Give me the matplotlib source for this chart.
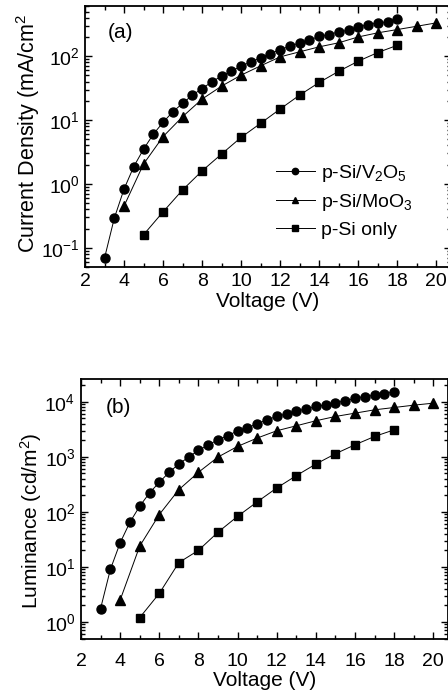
import matplotlib
matplotlib.use('Agg')
import matplotlib.pyplot as plt
from matplotlib.ticker import MultipleLocator, LogLocator, NullFormatter
import numpy as np

plt.rcParams['font.family'] = ['Liberation Sans', 'DejaVu Sans']
plt.rcParams['mathtext.fontset'] = 'custom'
plt.rcParams['mathtext.rm'] = 'Liberation Sans'
plt.rcParams['mathtext.it'] = 'Liberation Sans'

# voltages
v_half = [3 + 0.5 * i for i in range(31)]       # 3 .. 18 step 0.5
v_moo3 = list(range(4, 21))                     # 4 .. 20
v_si = list(range(5, 19))                       # 5 .. 18

# (a) current density, mA/cm2
j_v2o5 = [0.069, 0.29, 0.83, 1.87, 3.5, 6.0, 9.2, 13.5, 18.2, 24.6, 31, 39.7, 48.7, 58,
          70, 81.5, 94, 110, 127, 143, 162, 178, 205, 218, 240, 255, 287, 312, 332, 344, 388]
j_moo3 = [0.45, 2.05, 5.5, 11.3, 21.3, 34, 50.5, 70.6, 97.6, 117, 140, 162, 200, 232, 261, 294, 332]
j_si = [0.16, 0.365, 0.805, 1.6, 2.94, 5.36, 8.9, 14.9, 24.6, 38.8, 58, 83.5, 114, 148]

# (b) luminance, cd/m2
l_v2o5 = [1.75, 9.0, 27.4, 65, 127, 221, 345, 524, 741, 993, 1312, 1640, 2050, 2420, 2980,
          3380, 3990, 4720, 5420, 6060, 6870, 7360, 8230, 8830, 9720, 10400, 11650, 12500,
          13200, 13960, 15400]
l_moo3 = [2.5, 23.9, 89.5, 254, 524, 993, 1550, 2195, 2980, 3670, 4530, 5420, 6230, 7160,
          7890, 8700, 9460]
l_si = [1.2, 3.3, 12, 20, 42.8, 83, 152, 272, 456, 741, 1140, 1660, 2350, 3100]

labels = ['p-Si/V$_2$O$_5$', 'p-Si/MoO$_3$', 'p-Si only']

W, H = 448, 697
fig = plt.figure(figsize=(W / 100, H / 100), dpi=100)
FS = 14


def px_axes(left, top, right, bottom):
    return fig.add_axes([left / W, 1 - bottom / H, (right - left) / W, (bottom - top) / H])


def style(ax, ylim, xpad):
    ax.set_yscale('log')
    ax.set_xlim(2, 20.75)
    ax.set_ylim(*ylim)
    ax.xaxis.set_major_locator(MultipleLocator(2))
    ax.xaxis.set_minor_locator(MultipleLocator(1))
    ax.yaxis.set_major_locator(LogLocator(base=10, numticks=20))
    ax.yaxis.set_minor_locator(LogLocator(base=10, subs=np.arange(2, 10), numticks=20))
    ax.yaxis.set_minor_formatter(NullFormatter())
    ax.tick_params(which='both', direction='in', top=True, right=True, labelsize=FS,
                   width=1.0)
    ax.tick_params(axis='x', pad=xpad)
    ax.tick_params(axis='y', pad=4)
    ax.tick_params(which='major', length=5)
    ax.tick_params(which='minor', length=3)
    for s in ax.spines.values():
        s.set_linewidth(1.3)
    ax.set_xlabel('Voltage (V)', fontsize=FS + 1, labelpad=1)


kw = dict(color='black', linewidth=0.7)

ax1 = px_axes(85, 6, 451, 267)
ax1.plot(v_half, j_v2o5, marker='o', markersize=6.5, label=labels[0], **kw)
ax1.plot(v_moo3, j_moo3, marker='^', markersize=7, label=labels[1], **kw)
ax1.plot(v_si, j_si, marker='s', markersize=5.8, label=labels[2], **kw)
style(ax1, (0.05, 610), 4.5)
ax1.set_ylabel('Current Density (mA/cm$^2$', fontsize=15.5)
ax1.yaxis.set_label_coords(-0.118, 0.51)
ax1.text(0.063, 0.9, '(a)', transform=ax1.transAxes, fontsize=FS + 1, va='center')
leg = ax1.legend(loc='lower left', bbox_to_anchor=(0.50, 0.077), frameon=False, fontsize=FS,
                 handlelength=2.0, handletextpad=0.35, labelspacing=0.43, markerscale=0.7,
                 borderaxespad=0)

ax2 = px_axes(81, 379, 448, 639)
ax2.plot(v_half, l_v2o5, marker='o', markersize=6.5, **kw)
ax2.plot(v_moo3, l_moo3, marker='^', markersize=7, **kw)
ax2.plot(v_si, l_si, marker='s', markersize=5.8, **kw)
style(ax2, (0.49, 26000), 10)
ax2.set_ylabel('Luminance (cd/m$^2$)', fontsize=15)
ax2.yaxis.set_label_coords(-0.102, 0.455)
ax2.text(0.068, 0.89, '(b)', transform=ax2.transAxes, fontsize=FS + 1, va='center')

fig.savefig('out.png', dpi=100)
